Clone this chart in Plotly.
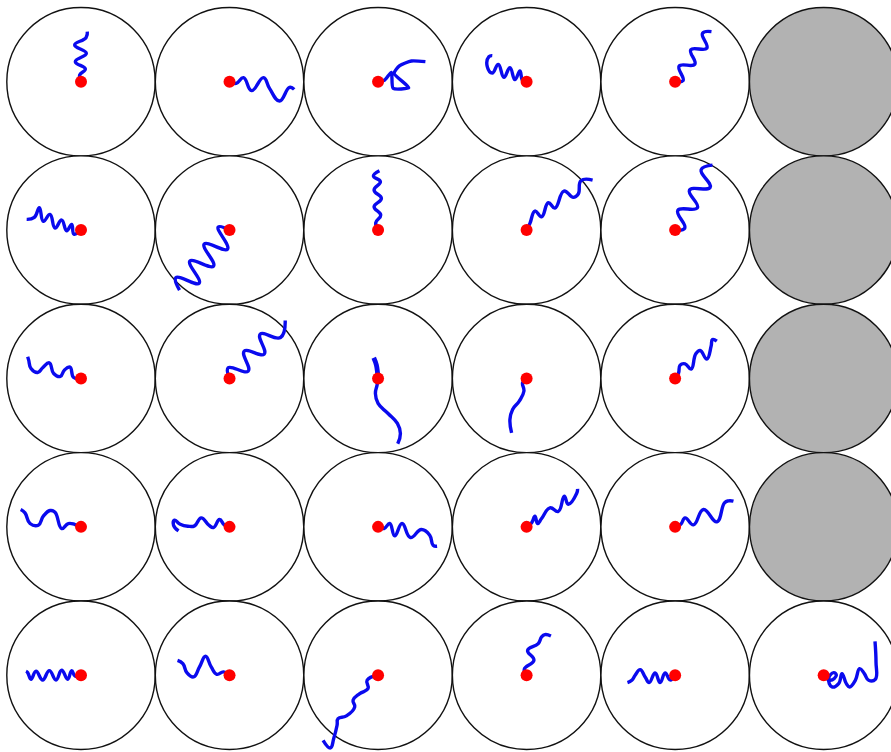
import plotly.graph_objects as go

# Trajectory offsets (dx, dy) from each cell centre, screen units (dy down), 1 unit = 1/3 px
r1c1 = [(0,0),(-4,-20),(13,-38),(-17,-60),(16,-85),(-19,-110),(15,-132),(19,-150)]
r1c2 = [(0,0),(20,5),(42,-12),(66,27),(102,-12),(120,20),(150,58),(180,17),(194,23)]
r1c3 = [(0,0),(20,-5),(40,-28),(45,20),(92,18),(48,-25),(65,-48),(100,-62),(142,-60)]
r1c4 = [(0,0),(-12,-3),(-20,-32),(-35,-6),(-50,-42),(-68,-13),(-85,-52),(-103,-26),(-118,-45),(-113,-75),(-103,-78)]
r1c5 = [(0,0),(24,-3),(12,-47),(59,-52),(47,-96),(95,-100),(82,-145),(109,-150)]
r2c1 = [(0,0),(-21,12),(-28,-17),(-43,2),(-58,-30),(-78,-6),(-93,-47),(-113,-26),(-125,-67),(-140,-38),(-163,-32)]
r2c2 = [(0,0),(-34,-9),(-6,57),(-76,42),(-48,108),(-119,93),(-91,159),(-161,143),(-150,180)]
r2c3 = [(0,0),(-7,-22),(8,-45),(-12,-70),(10,-95),(-12,-120),(7,-145),(-14,-162),(4,-178)]
r2c4 = [(0,0),(10,-20),(25,-57),(45,-40),(65,-82),(85,-66),(112,-117),(140,-98),(155,-108),(163,-148),(198,-150)]
r2c5 = [(0,0),(29,-6),(8,-59),(67,-67),(43,-120),(105,-128),(78,-181),(112,-195)]
r3c1 = [(0,0),(-22,-3),(-33,-34),(-50,-25),(-62,-6),(-82,-15),(-95,-47),(-115,-32),(-130,-18),(-150,-30),(-157,-55),(-160,-65)]
r3c2 = [(0,0),(-4,-32),(56,-22),(44,-82),(104,-73),(92,-133),(153,-123),(167,-174)]
r3c3 = [(0,0),(-3,20),(-8,45),(0,75),(30,105),(58,135),(67,165),(59,196)]
r3c3_stub = [(0,0),(-5,-40),(-13,-62)]
r3c4 = [(0,0),(-12,13),(-8,38),(-22,68),(-42,93),(-50,123),(-45,163)]
r3c5 = [(0,0),(10,-15),(15,-40),(30,-44),(48,-28),(62,-74),(75,-84),(95,-58),(108,-97),(112,-117),(125,-112)]
r4c1 = [(0,0),(-18,-7),(-38,-10),(-58,5),(-78,-44),(-93,-49),(-113,-32),(-128,-5),(-153,-10),(-168,-42),(-181,-52)]
r4c2 = [(0,0),(-15,-5),(-30,-22),(-48,2),(-62,-5),(-85,-27),(-105,-3),(-125,-2),(-148,-8),(-165,-20),(-168,-5),(-153,12)]
r4c3 = [(0,0),(18,5),(35,-10),(50,27),(72,-10),(97,32),(130,8),(155,25),(165,55),(177,58)]
r4c4 = [(0,0),(15,-12),(25,-32),(33,-10),(45,-25),(70,-57),(95,-46),(113,-92),(125,-68),(150,-100),(153,-114)]
r4c5 = [(0,0),(17,-8),(30,-27),(55,-6),(85,-52),(125,-15),(148,-72),(160,-78),(175,-77)]
r5c1 = [(0,0),(-18,2),(-28,-14),(-40,12),(-58,-15),(-75,14),(-95,-14),(-115,14),(-135,-12),(-150,12),(-160,-8),(-165,-12)]
r5c2 = [(0,0),(-18,-10),(-38,-3),(-55,-25),(-72,-57),(-90,-25),(-108,5),(-128,-8),(-140,-35),(-156,-45)]
r5c3 = [(0,0),(-33,15),(-30,40),(-55,55),(-75,75),(-70,95),(-95,122),(-120,130),(-123,150),(-133,190),(-143,218),(-165,195)]
r5c4 = [(0,0),(-7,-18),(22,-45),(3,-75),(35,-95),(45,-115),(55,-122),(73,-118)]
r5c5 = [(0,0),(-15,14),(-30,-7),(-45,22),(-60,-7),(-78,22),(-90,5),(-105,-17),(-120,0),(-130,15),(-143,22)]
r5c6 = [(0,0),(20,15),(38,0),(30,-8),(15,10),(25,35),(45,25),(55,-5),(68,25),(78,35),(95,15),(108,-20),(122,-5),(135,15),(155,12),(157,-40),(154,-102)]

# (row, col, track)
tracks = [
    (0,0,r1c1),(0,1,r1c2),(0,2,r1c3),(0,3,r1c4),(0,4,r1c5),
    (1,0,r2c1),(1,1,r2c2),(1,2,r2c3),(1,3,r2c4),(1,4,r2c5),
    (2,0,r3c1),(2,1,r3c2),(2,2,r3c3),(2,3,r3c4),(2,4,r3c5),
    (3,0,r4c1),(3,1,r4c2),(3,2,r4c3),(3,3,r4c4),(3,4,r4c5),
    (4,0,r5c1),(4,1,r5c2),(4,2,r5c3),(4,3,r5c4),(4,4,r5c5),(4,5,r5c6),
]
empty_cells = [(0,5),(1,5),(2,5),(3,5)]
n_rows, n_cols = 5, 6

# grid geometry (units)
X0, Y0 = 243, 245
DX, DY = 445.6, 445.2
R = 222.6
W_UNITS, H_UNITS = 2673, 2256

def centre(r, c):
    return X0 + DX*c, Y0 + DY*r

fig = go.Figure()
shapes = []
for r in range(n_rows):
    for c in range(n_cols):
        cx, cy = centre(r, c)
        fill = '#b2b2b2' if (r, c) in empty_cells else 'white'
        shapes.append(dict(type='circle', xref='x', yref='y', layer='below',
                           x0=cx-R, x1=cx+R, y0=cy-R, y1=cy+R,
                           line=dict(color='#111111', width=1.4), fillcolor=fill))

for r, c, tr in tracks:
    cx, cy = centre(r, c)
    smooth = 0.6 if tr is r1c3 else 1.3
    fig.add_trace(go.Scatter(x=[cx+p[0] for p in tr], y=[cy+p[1] for p in tr],
                             mode='lines', line=dict(color='#0a0aee', width=3.4, shape='spline', smoothing=smooth),
                             hoverinfo='skip', showlegend=False))
cx, cy = centre(2, 2)
fig.add_trace(go.Scatter(x=[cx+p[0] for p in r3c3_stub], y=[cy+p[1] for p in r3c3_stub],
                         mode='lines', line=dict(color='#0a0aee', width=4.8, shape='spline'),
                         hoverinfo='skip', showlegend=False))

dots_x = [centre(r, c)[0] for r, c, _ in tracks]
dots_y = [centre(r, c)[1] for r, c, _ in tracks]
fig.add_trace(go.Scatter(x=dots_x, y=dots_y, mode='markers',
                         marker=dict(color='#ff0000', size=12, line=dict(width=0)),
                         hoverinfo='skip', showlegend=False))

fig.update_layout(width=891, height=752, margin=dict(l=0, r=0, t=0, b=0),
                  paper_bgcolor='white', plot_bgcolor='white', shapes=shapes,
                  xaxis=dict(range=[0, W_UNITS], visible=False, fixedrange=True),
                  yaxis=dict(range=[H_UNITS, 0], visible=False, fixedrange=True))
fig.write_html("out.html", config={'displayModeBar': False},
               post_script="document.body.style.margin='0';document.body.style.overflow='hidden';")
